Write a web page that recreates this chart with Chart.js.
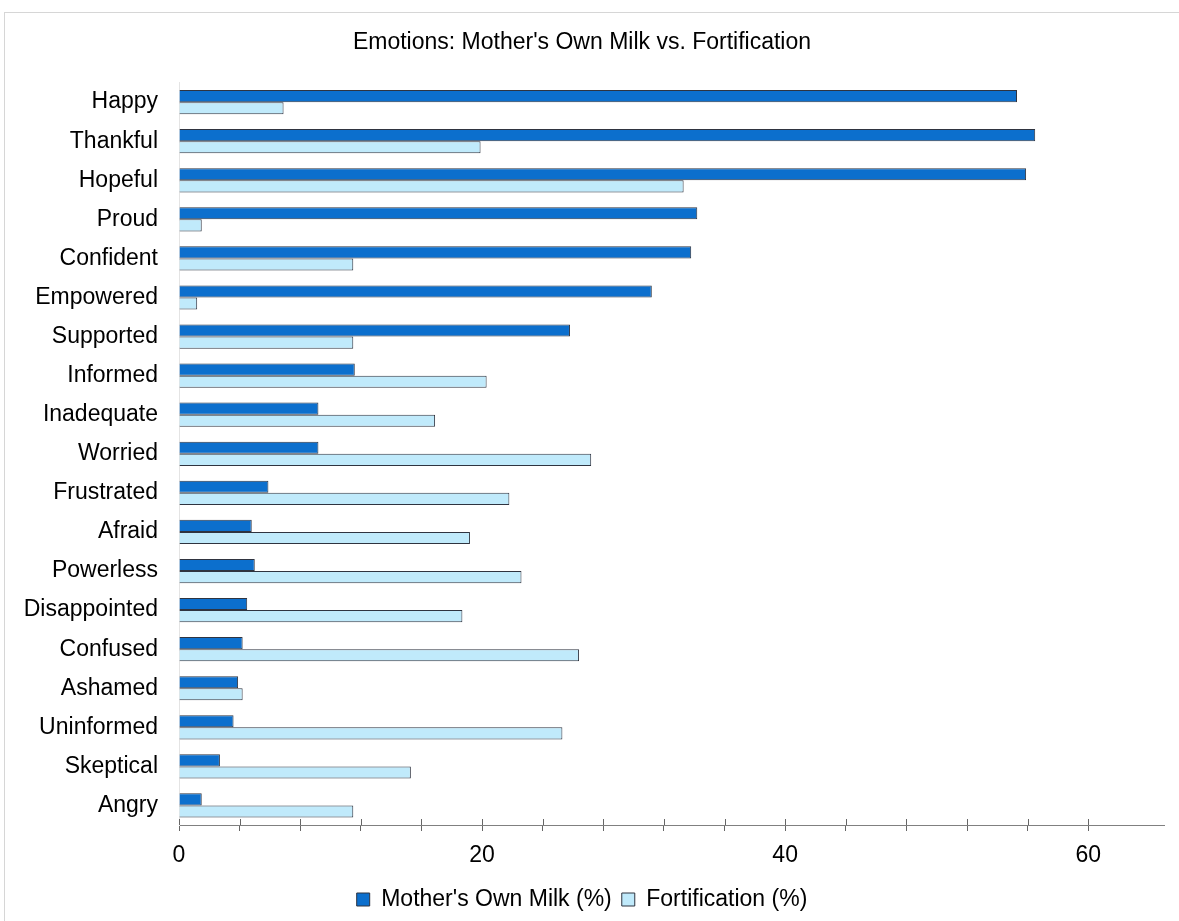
<!DOCTYPE html>
<html>
<head>
<meta charset="utf-8">
<script src="https://cdn.jsdelivr.net/npm/chart.js@4.4.0/dist/chart.umd.min.js"></script>
<style>
  html, body { margin: 0; padding: 0; background: #fff; }
  .frame { position: absolute; left: 4px; top: 12px; width: 1300px; height: 1000px; border: 1px solid #d6d6d6; }
  #chart { position: absolute; left: 0; top: 0; }
</style>
</head>
<body>
<div class="frame"></div>
<canvas id="chart" width="1179" height="921"></canvas>
<script>
const categories = ["Happy", "Thankful", "Hopeful", "Proud", "Confident", "Empowered", "Supported",
  "Informed", "Inadequate", "Worried", "Frustrated", "Afraid", "Powerless", "Disappointed",
  "Confused", "Ashamed", "Uninformed", "Skeptical", "Angry"];
const mothersOwnMilk = [55.3, 56.5, 55.9, 34.2, 33.8, 31.2, 25.8, 11.6, 9.2, 9.2, 5.9, 4.8, 5.0, 4.5, 4.2, 3.9, 3.6, 2.7, 1.5];
const fortification = [6.9, 19.9, 33.3, 1.5, 11.5, 1.2, 11.5, 20.3, 16.9, 27.2, 21.8, 19.2, 22.6, 18.7, 26.4, 4.2, 25.3, 15.3, 11.5];

const FONT = "'Liberation Sans', Arial, sans-serif";

// tick marks cross the x axis line: draw the part above the line
const crossTicks = {
  id: "crossTicks",
  afterDraw(chart) {
    const x = chart.scales.x;
    const ctx = chart.ctx;
    ctx.save();
    ctx.strokeStyle = "#666";
    ctx.lineWidth = 1;
    x.ticks.forEach((t) => {
      const px = Math.round(x.getPixelForValue(t.value)) + 0.5;
      ctx.beginPath();
      ctx.moveTo(px, x.top - 6);
      ctx.lineTo(px, x.top);
      ctx.stroke();
    });
    ctx.restore();
  },
};

new Chart(document.getElementById("chart"), {
  type: "bar",
  data: {
    labels: categories,
    datasets: [
      {
        label: "Mother's Own Milk (%)",
        data: mothersOwnMilk,
        backgroundColor: "#0c6fcd",
        borderColor: "#2f3440",
        borderWidth: 1,
        categoryPercentage: 0.62,
        barPercentage: 1,
      },
      {
        label: "Fortification (%)",
        data: fortification,
        backgroundColor: "#c0eafb",
        borderColor: "#2f3440",
        borderWidth: 1,
        categoryPercentage: 0.62,
        barPercentage: 1,
      },
    ],
  },
  options: {
    indexAxis: "y",
    responsive: false,
    animation: false,
    layout: { padding: { left: 0, right: 15, top: 0, bottom: 0 } },
    scales: {
      x: {
        min: 0,
        max: 65,
        afterBuildTicks: (scale) => {
          scale.ticks = scale.ticks.filter((t) => t.value % 4 === 0);
        },
        afterFit: (scale) => {
          scale.height = 53;
        },
        ticks: {
          stepSize: 4,
          autoSkip: false,
          maxRotation: 0,
          padding: 11,
          color: "#000",
          font: { family: FONT, size: 23 },
          callback: (v) => (v % 20 === 0 ? v : ""),
        },
        grid: { drawOnChartArea: false, drawTicks: true, tickLength: 6, color: "#666" },
        border: { color: "#808080", width: 1 },
      },
      y: {
        afterFit: (scale) => {
          scale.width = 179;
        },
        ticks: {
          padding: 21,
          color: "#000",
          font: { family: FONT, size: 23 },
        },
        grid: { display: false, drawTicks: false },
        border: { color: "#e4e4e4", width: 1 },
      },
    },
    plugins: {
      title: {
        display: true,
        text: "Emotions: Mother's Own Milk vs. Fortification",
        color: "#000",
        font: { family: FONT, size: 23, weight: "normal" },
        padding: { top: 29, bottom: 26 },
      },
      legend: {
        position: "bottom",
        labels: {
          boxWidth: 13,
          boxHeight: 13,
          color: "#000",
          font: { family: FONT, size: 23 },
        },
      },
      tooltip: { enabled: false },
    },
  },
  plugins: [crossTicks],
});
</script>
</body>
</html>
